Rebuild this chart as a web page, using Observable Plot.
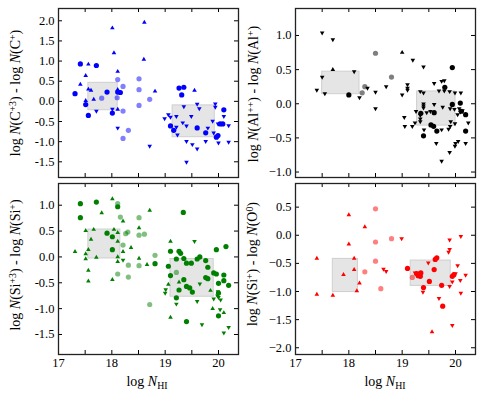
<!DOCTYPE html>
<html><head><meta charset="utf-8">
<script src="https://cdn.jsdelivr.net/npm/d3@7"></script>
<script src="https://cdn.jsdelivr.net/npm/@observablehq/plot@0.6"></script>
<style>
body{margin:0;background:#fff;}
#chart{position:relative;width:484px;height:398px;font-family:"Liberation Serif","Times New Roman",serif;color:#000;background:#fff;}
#chart svg.p{position:absolute;font-family:"Liberation Serif","Times New Roman",serif !important;font-size:12.5px !important;}
.ylab{position:absolute;white-space:nowrap;font-size:14px;transform:translate(-50%,-50%) rotate(-90deg);}
.xlab{position:absolute;white-space:nowrap;font-size:14px;transform:translate(-50%,-50%);}
sup{font-size:70%;vertical-align:0.45em;line-height:0;}
sub{font-size:70%;vertical-align:-0.3em;line-height:0;}
</style></head><body><div id="chart"></div>
<script>
// ---------- shared ----------
const xDomain = [17, 20.375];
const xTickMarks = [17, 17.5, 18, 18.5, 19, 19.5, 20];
const xTickLabels = [17, 18, 19, 20];

// ---------- Panel 1: C+3 / C+ (blue) ----------
const c_circles = [[17.31,0.19],[17.41,0.93],[17.71,0.89],[17.51,-0.08],[17.56,-0.35],[17.91,0.23],[18.01,-0.29],[18.11,0.23],[18.16,0.22],[19.26,0.33],[19.35,0.35],[19.31,0.16],[20.1,-0.21],[19.1,-0.61],[19.16,-0.72],[19.6,-0.66],[19.76,-0.78],[20.03,-0.56],[20.08,-0.56],[19.96,-0.89],[19.99,-0.85]];
const c_light = [[17.81,0.08],[18.11,0.54],[18.1,0.09],[18.21,0.37],[18.21,-0.24],[18.31,-0.72],[18.21,-0.92],[18.51,0.56],[18.51,0.29],[18.51,-0.1],[18.71,0.05]];
const c_up = [[18.04,1.2],[18.6,1.04],[18.01,1.82],[18.61,1.96],[17.56,0.92],[17.51,0.64],[18.11,0.74],[17.41,0.42],[17.56,0.3],[17.61,0.27],[18.11,0.29],[18.81,0.25],[17.66,0.05],[17.51,0.02],[18.11,-0.2],[19.55,0.27]];
const c_down = [[17.71,-0.24],[18.01,-0.19],[18.11,-0.66],[18.71,-1.11],[19.35,-0.13],[19.6,-0.07],[19.64,-0.18],[19.94,-0.06],[19.94,-0.14],[20.1,-0.37],[18.99,-0.43],[19.06,-0.33],[19.1,-0.39],[19.21,-0.37],[19.49,-0.37],[19.33,-0.53],[19.4,-0.61],[19.21,-0.64],[19.23,-0.83],[19.8,-0.66],[19.89,-0.49],[19.99,-0.56],[20.19,-0.6],[19.91,-0.78],[19.4,-0.99],[19.51,-1.07],[19.6,-1.18],[19.76,-0.99],[20.0,-1.03],[20.19,-1.01],[19.4,-1.51]];
const c_rectX1 = [17.56, 19.14], c_rectX2 = [18.11, 19.93], c_rectY1 = [-0.22, -0.89], c_rectY2 = [0.46, -0.1];
const c_yTicks = [-1.5, -1.0, -0.5, 0.0, 0.5, 1.0, 1.5, 2.0];

// ---------- Panel 2: Al++ / Al+ (black) ----------
const al_circles = [[18.0,0.13],[19.94,0.53],[19.8,0.24],[19.35,-0.14],[19.6,-0.13],[19.94,-0.01],[20.09,0.01],[20.11,-0.11],[20.19,-0.16],[19.54,-0.31],[19.59,-0.33],[19.65,-0.4],[20.19,-0.4],[19.4,-0.47]];
const al_light = [[18.5,0.74],[18.8,0.39],[18.25,0.16],[18.3,0.25]];
const al_up = [[17.7,0.5],[19.0,0.75]];
const al_down = [[17.5,1.04],[17.7,0.94],[17.5,0.39],[17.4,0.2],[17.55,0.15],[18.1,0.47],[18.2,0.09],[18.35,0.23],[18.5,0.17],[18.5,-0.07],[18.7,0.25],[19.0,0.13],[19.2,0.64],[19.4,0.54],[19.1,0.28],[19.1,0.23],[19.1,0.2],[19.6,0.3],[19.74,0.33],[19.79,0.34],[19.34,0.18],[19.4,0.16],[19.69,0.19],[19.79,0.19],[19.89,0.18],[19.99,0.16],[20.1,0.16],[19.4,0.0],[19.4,-0.03],[19.4,-0.06],[19.6,-0.01],[19.76,-0.05],[19.9,-0.07],[19.26,-0.11],[19.46,-0.13],[19.53,-0.11],[19.98,-0.08],[20.07,-0.07],[20.04,-0.16],[20.09,-0.12],[20.13,-0.1],[20.24,-0.28],[19.04,-0.2],[19.34,-0.17],[19.34,-0.22],[19.34,-0.26],[19.24,-0.28],[19.19,-0.33],[19.05,-0.33],[19.41,-0.38],[19.74,-0.38],[19.87,-0.37],[19.9,-0.33],[19.99,-0.29],[19.91,-0.26],[20.19,-0.58],[20.05,-0.55],[20.0,-0.58],[19.99,-0.62],[19.64,-0.58],[19.89,-0.71],[19.74,-0.84]];
const al_rectX1 = [17.5, 19.28], al_rectX2 = [18.2, 20.0], al_rectY1 = [0.14, -0.32], al_rectY2 = [0.47, 0.18];
const al_yTicks = [-1.0, -0.5, 0.0, 0.5, 1.0];

// ---------- Panel 3: Si+3 / Si+ (green) ----------
const si_circles = [[17.41,1.03],[17.71,1.06],[18.11,0.97],[17.41,0.76],[17.91,0.46],[18.01,0.39],[18.01,0.14],[18.81,-0.13],[19.34,0.86],[20.14,0.2],[19.96,0.14],[19.1,0.11],[19.26,0.11],[19.29,0.07],[19.35,-0.03],[19.4,-0.12],[19.49,-0.12],[19.21,-0.04],[19.6,-0.04],[19.65,0.0],[19.76,-0.07],[19.8,-0.2],[19.06,-0.18],[19.1,-0.36],[19.91,-0.31],[19.96,-0.33],[20.1,-0.35],[19.35,-0.44],[19.76,-0.4],[19.8,-0.42],[20.1,-0.46],[20.0,-0.51],[20.19,-0.55],[19.4,-0.57],[19.46,-0.6],[19.26,-0.64],[19.51,-0.68],[20.0,-0.7],[19.21,-0.79],[20.0,-1.14],[19.4,-1.25]];
const si_light = [[18.11,1.03],[18.16,0.77],[18.51,0.76],[18.3,0.48],[18.26,0.45],[18.51,0.42],[18.61,0.44],[18.21,0.23],[18.81,0.03],[18.31,-0.16],[18.51,-0.17],[18.11,-0.33],[18.31,-0.39],[18.71,-0.92],[19.21,-0.3]];
const si_up = [[18.01,1.12],[17.81,0.85],[18.71,0.9],[18.21,0.69],[17.51,0.51],[17.66,0.53],[18.04,0.53],[18.11,0.47],[18.51,0.56],[17.61,0.34],[18.11,0.3],[18.36,0.18],[17.31,0.1],[17.56,0.14],[17.51,0.06],[18.21,0.1],[17.51,-0.04],[17.71,-0.01],[18.11,0.0],[18.51,-0.03],[18.11,-0.09],[18.66,-0.15],[17.56,-0.26],[17.56,-0.47],[18.01,-0.44],[19.1,0.3],[19.26,-0.49],[19.06,-0.53],[19.85,-0.65],[19.89,-1.0],[20.1,-1.08],[19.1,-1.17]];
const si_down = [[18.21,-0.06],[19.55,0.3],[19.65,-0.52],[19.01,-0.63],[19.0,-0.7],[19.99,-0.67],[19.98,-0.75],[19.21,-0.91],[19.91,-0.81],[20.0,-0.78],[20.04,-0.83],[19.6,-0.86],[20.03,-1.02],[19.69,-1.31],[20.19,-1.36],[20.1,-1.47]];
const si_rectX1 = [17.56, 19.1], si_rectX2 = [18.16, 19.91], si_rectY1 = [-0.03, -0.77], si_rectY2 = [0.53, -0.04];
const si_yTicks = [-1.5, -1.0, -0.5, 0.0, 0.5, 1.0];

// ---------- Panel 4: Si+ / O0 (red) ----------
const so_circles = [[19.1,-0.59],[19.65,-0.4],[19.62,-0.43],[19.6,-0.61],[19.27,-0.68],[19.3,-0.72],[19.32,-0.69],[19.35,-0.67],[19.34,-0.73],[19.51,-0.82],[19.74,-0.89],[19.4,-0.93],[19.94,-0.73],[19.97,-0.7],[19.76,-1.26]];
const so_light = [[18.5,0.47],[18.5,-0.12],[18.5,-0.46],[18.3,-0.65],[18.8,-0.06],[18.6,-0.95],[19.19,-0.75]];
const so_up = [[17.4,-0.41],[17.4,-1.05],[17.7,-1.07],[17.9,-0.7],[18.0,0.36],[18.0,-0.16],[18.1,-0.41],[18.1,-0.61],[18.2,-0.85],[18.15,-0.99],[18.3,0.15],[19.56,-1.72]];
const so_down = [[18.65,-0.6],[18.7,-0.64],[18.99,-0.06],[20.1,-0.02],[19.89,-0.08],[19.89,-0.25],[19.87,-0.3],[19.49,-0.49],[20.04,-0.54],[19.24,-0.67],[19.89,-0.91],[19.39,-1.01],[20.19,-0.71],[19.94,-0.83],[20.09,-0.8],[20.1,-1.03],[19.69,-1.12],[19.94,-1.6],[20.0,-0.68]];
const so_rectX1 = [17.7, 19.16], so_rectX2 = [18.17, 19.91], so_rectY1 = [-1.01, -0.9], so_rectY2 = [-0.42, -0.45];
const so_yTicks = [-2.0, -1.5, -1.0, -0.5, 0.0, 0.5];

const chart = document.getElementById("chart");

function panel(cfg) {
  const iw = cfg.width - cfg.ml - cfg.mr, ih = cfg.height - cfg.mt - cfg.mb;
  const fmt = d => (d < 0 ? cfg.minus : "") + Math.abs(d).toFixed(1);
  const rects = cfg.rx1.map((v, i) => ({x1: v, x2: cfg.rx2[i], y1: cfg.ry1[i], y2: cfg.ry2[i]}));
  const marks = [
    Plot.rect(rects, {x1: "x1", x2: "x2", y1: "y1", y2: "y2", fill: "#e5e5e5", stroke: "#cfcfcf", strokeWidth: 1}),
    Plot.dot(cfg.light, {x: d => d[0], y: d => d[1], r: 2.6, fill: cfg.color, fillOpacity: 0.5}),
    Plot.dot(cfg.circles, {x: d => d[0], y: d => d[1], r: 2.6, fill: cfg.color}),
    Plot.dot(cfg.up, {x: d => d[0], y: d => d[1], symbol: "triangle", r: 1.7, fill: cfg.color}),
    Plot.dot(cfg.down, {x: d => d[0], y: d => d[1], symbol: "triangle", rotate: 180, r: 1.7, fill: cfg.color}),
    Plot.tickX(xTickMarks, {x: d => d, insetTop: ih - 4, stroke: "#000"}),
    Plot.tickX(xTickMarks, {x: d => d, insetBottom: ih - 4, stroke: "#000"}),
    Plot.tickY(cfg.yTicks, {y: d => d, insetLeft: iw - 4, stroke: "#000"}),
    Plot.tickY(cfg.yTicks, {y: d => d, insetRight: iw - 4, stroke: "#000"}),
    Plot.axisY(cfg.yTicks, {anchor: "left", tickSize: 0, tickPadding: 4, tickFormat: fmt, label: null}),
    Plot.frame({stroke: "#222", strokeWidth: 1.3})
  ];
  if (cfg.xLabels) marks.push(Plot.axisX(xTickLabels, {anchor: "bottom", tickSize: 0, tickPadding: 4, tickFormat: d => String(d), label: null}));
  const svg = Plot.plot({
    width: cfg.width, height: cfg.height,
    marginLeft: cfg.ml, marginRight: cfg.mr, marginTop: cfg.mt, marginBottom: cfg.mb,
    x: {domain: xDomain, axis: cfg.xLabels ? undefined : null},
    y: {domain: cfg.yDomain},
    style: {fontFamily: "'Liberation Serif','Times New Roman',serif", fontSize: "12.5px", background: "transparent", color: "#000", overflow: "visible"},
    marks
  });
  svg.classList.add("p");
  svg.style.left = cfg.left + "px";
  svg.style.top = cfg.top + "px";
  chart.appendChild(svg);
}

panel({left: 0, top: 0, width: 242, height: 182, ml: 58, mr: 4, mt: 8, mb: 5, yDomain: [-1.89, 2.305], yTicks: c_yTicks, minus: "-",
  color: "#0000ff", circles: c_circles, light: c_light, up: c_up, down: c_down, rx1: c_rectX1, rx2: c_rectX2, ry1: c_rectY1, ry2: c_rectY2, xLabels: false});
panel({left: 242, top: 0, width: 242, height: 182, ml: 53, mr: 9, mt: 8, mb: 5, yDomain: [-1.08, 1.395], yTicks: al_yTicks, minus: "\u2212",
  color: "#000000", circles: al_circles, light: al_light, up: al_up, down: al_down, rx1: al_rectX1, rx2: al_rectX2, ry1: al_rectY1, ry2: al_rectY2, xLabels: false});
panel({left: 0, top: 180, width: 242, height: 218, ml: 58, mr: 4, mt: 3, mb: 44, yDomain: [-1.887, 1.42], yTicks: si_yTicks, minus: "-",
  color: "#008000", circles: si_circles, light: si_light, up: si_up, down: si_down, rx1: si_rectX1, rx2: si_rectX2, ry1: si_rectY1, ry2: si_rectY2, xLabels: true});
panel({left: 242, top: 180, width: 242, height: 218, ml: 53, mr: 9, mt: 3, mb: 44, yDomain: [-2.12, 0.92], yTicks: so_yTicks, minus: "\u2212",
  color: "#ff0000", circles: so_circles, light: so_light, up: so_up, down: so_down, rx1: so_rectX1, rx2: so_rectX2, ry1: so_rectY1, ry2: so_rectY2, xLabels: true});

function label(cls, x, y, html) {
  const d = document.createElement("div");
  d.className = cls;
  d.style.left = x + "px";
  d.style.top = y + "px";
  d.innerHTML = html;
  chart.appendChild(d);
}
label("ylab", 16, 93, "log <i>N</i>(C<sup>+3</sup>) - log <i>N</i>(C<sup>+</sup>)");
label("ylab", 254, 94, "log <i>N</i>(Al<sup>++</sup>) - log <i>N</i>(Al<sup>+</sup>)");
label("ylab", 16, 265, "log <i>N</i>(Si<sup>+3</sup>) - log <i>N</i>(Si<sup>+</sup>)");
label("ylab", 253, 264, "log <i>N</i>(Si<sup>+</sup>) - log <i>N</i>(O<sup>0</sup>)");
label("xlab", 147, 382, "log <i>N</i><sub>HI</sub>");
label("xlab", 385, 382, "log <i>N</i><sub>HI</sub>");
</script></body></html>
